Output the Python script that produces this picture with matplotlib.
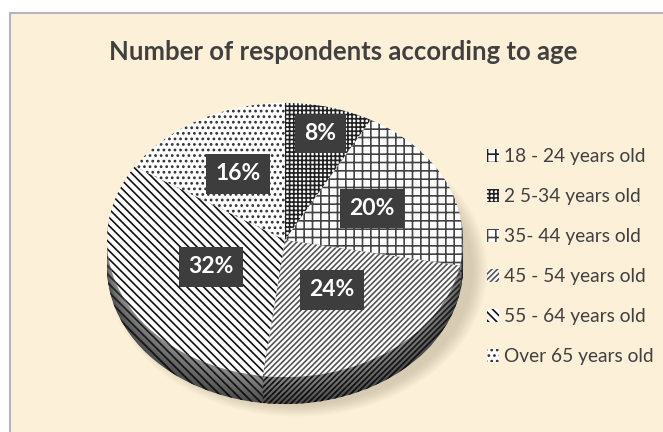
import matplotlib
matplotlib.use('Agg')
import matplotlib.pyplot as plt
from matplotlib.patches import Rectangle, Ellipse
import numpy as np

categories = ["18 - 24 years old", "2 5-34 years old", "35- 44 years old",
              "45 - 54 years old", "55 - 64 years old", "Over 65 years old"]
values = [0, 8, 20, 24, 32, 16]
pct_labels = ["", "8%", "20%", "24%", "32%", "16%"]
title = "Number of respondents according to age"

hatches = ['++', '++++', '++', '//////', '\\\\\\\\', '...']
hatch_colors = ['#222222', '#222222', '#444444', '#555555', '#111111', '#333333']

plt.rcParams['font.family'] = ['Lato', 'DejaVu Sans']
plt.rcParams['hatch.linewidth'] = 1.2

W, H = 663, 432
fig = plt.figure(figsize=(W / 100, H / 100), dpi=100)
fig.patch.set_facecolor('white')
fig.patches.append(Rectangle((10 / W, -0.05), 1.1, 1.05 - 13 / H, transform=fig.transFigure,
                             facecolor='#fcf0d8', edgecolor='#b4b4bc', lw=1.5, zorder=-10))

ax = fig.add_axes([0, 0, 1, 1])
ax.set_zorder(1)
ax.patch.set_alpha(0)
sy = 0.77
cx, cy_px = 285, 240
cy = (H - cy_px) / sy
R = 178
depth = 27 / sy

# soft shadow
for i in range(8):
    ax.add_patch(Ellipse((cx + 12, cy - depth - 4), 2 * R + 24 - 4 * i, 2 * R + 24 - 4 * i,
                         facecolor='#7a6a50', edgecolor='none', alpha=0.035, zorder=0.5))

# side layers
n_layers = 30
ks = np.linspace(depth, 1, n_layers)
for i, k in enumerate(ks):
    g = 0.30 + 0.25 * i / (n_layers - 1)
    wl, _ = ax.pie(values, center=(cx, cy - k), radius=R, startangle=90, counterclock=False,
                   colors=[(g, g, g)] * len(values), hatch=hatches, frame=False,
                   wedgeprops=dict(linewidth=0, edgecolor='black'))

# top surface
top, _ = ax.pie(values, center=(cx, cy), radius=R, startangle=90, counterclock=False,
                colors=['white'] * len(values), hatch=hatches, frame=False,
                wedgeprops=dict(linewidth=0, edgecolor='black'))
for wdg, hc in zip(top, hatch_colors):
    wdg.set_edgecolor(hc)

label_r = [0.8, 0.8, 0.54, 0.45, 0.46, 0.55]
for wdg, lab, fr in zip(top, pct_labels, label_r):
    if not lab:
        continue
    ang = np.deg2rad((wdg.theta1 + wdg.theta2) / 2)
    x = cx + fr * R * np.cos(ang)
    y = cy + fr * R * np.sin(ang)
    ax.text(x, y, lab, ha='center', va='center', color='white', fontsize=16.5,
            fontweight='bold', zorder=10,
            bbox=dict(boxstyle='square,pad=0.4', fc='#3d3d3d', ec='none'))

leg = ax.legend(top, categories, loc='upper left', bbox_to_anchor=(470 / W, 1 - 131 / H),
                bbox_transform=fig.transFigure, frameon=False, fontsize=13.8,
                handlelength=0.6, handleheight=0.6, handletextpad=0.3,
                labelspacing=1.2, labelcolor='#404040')

fig.text(343 / W, 1 - 52 / H, title, ha='center', va='center', fontsize=18.5,
         fontweight='bold', color='#404040')

ax.set_aspect('auto')
ax.set_xlim(0, W)
ax.set_ylim(0, H / sy)
ax.axis('off')

fig.savefig('out.png', dpi=100, facecolor=fig.get_facecolor())
